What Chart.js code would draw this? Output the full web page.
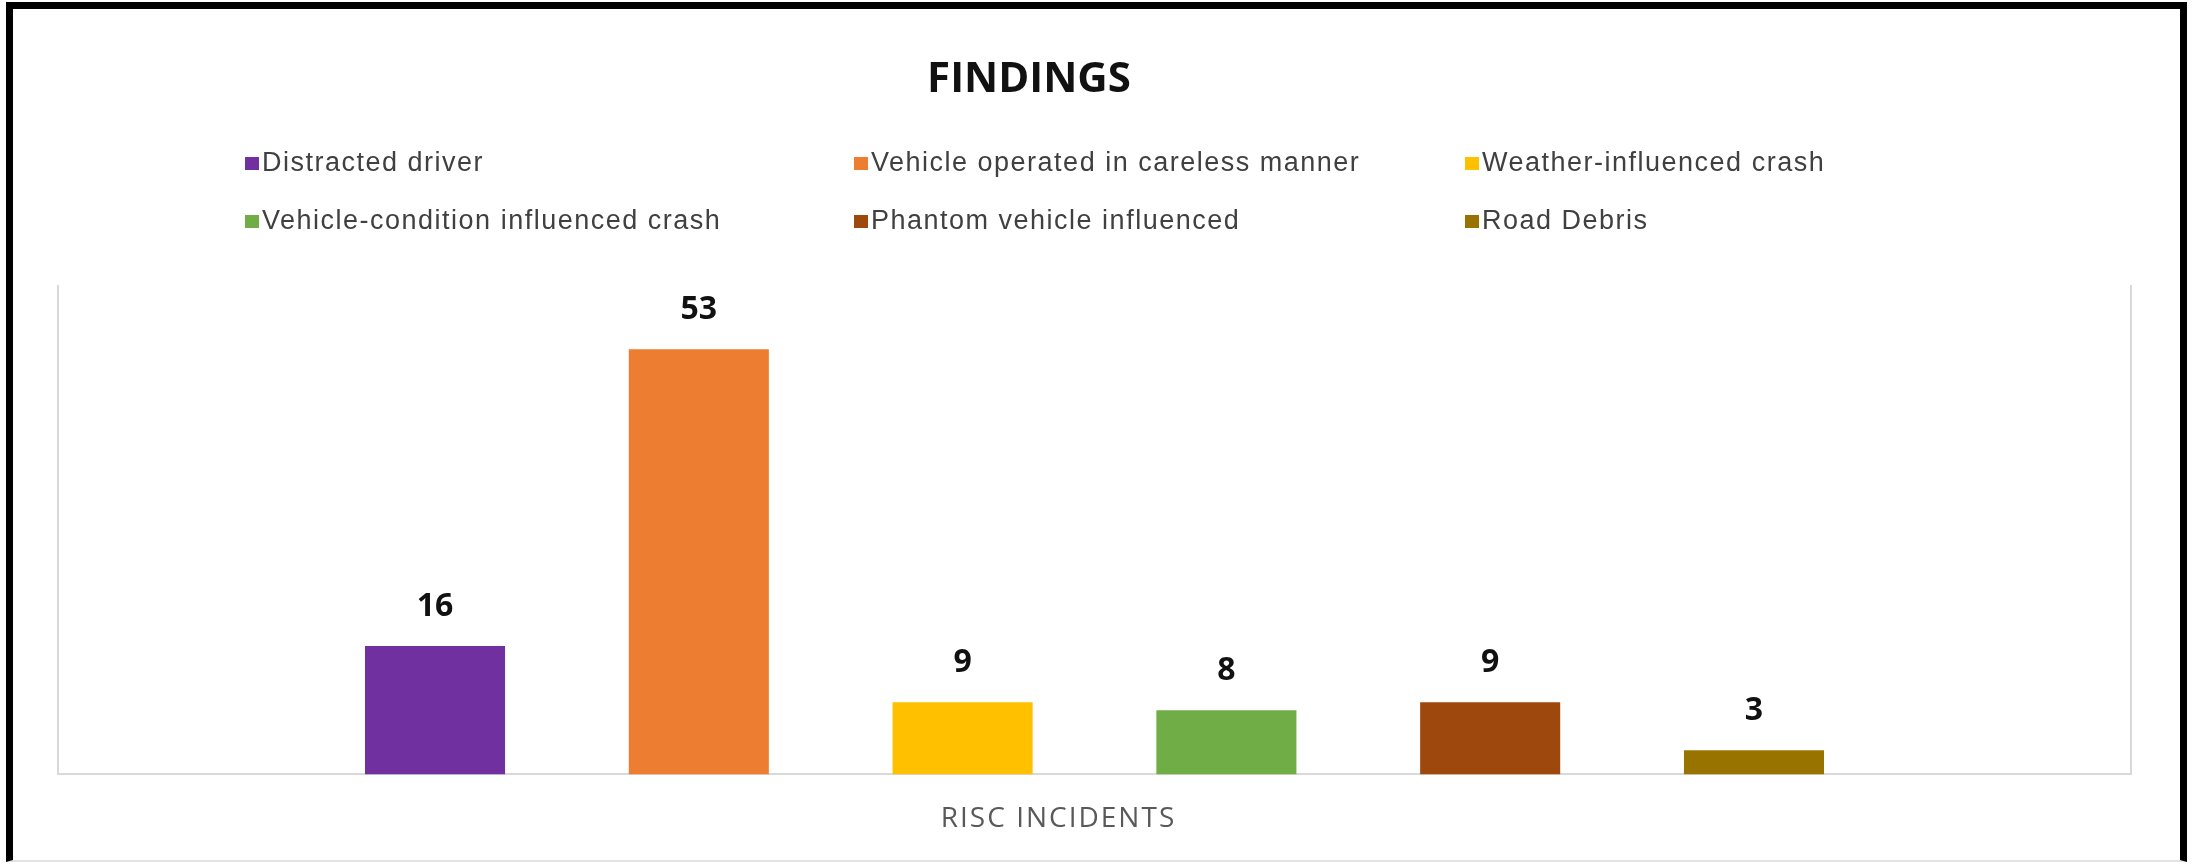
<!DOCTYPE html>
<html>
<head>
<meta charset="utf-8">
<script src="https://cdn.jsdelivr.net/npm/chart.js@4.4.1/dist/chart.umd.min.js"></script>
<style>
  html, body { margin: 0; padding: 0; background: #fff; }
  #wrap { position: relative; width: 2195px; height: 867px; overflow: hidden; }
  #frame {
    position: absolute; left: 6px; top: 2px; width: 2167px; height: 851px;
    border: 7px solid #000; border-bottom: 2px solid #e3e3e3;
  }
  #chart_findings { position: absolute; left: 0; top: 0; }
</style>
</head>
<body>
<div id="wrap">
  <div id="frame"></div>
  <canvas id="chart_findings" width="2195" height="867"></canvas>
</div>
<script>
const chartTitle = "FINDINGS";

const categories = ["RISC INCIDENTS"];

const seriesNames = [
  "Distracted driver",
  "Vehicle operated in careless manner",
  "Weather-influenced crash",
  "Vehicle-condition influenced crash",
  "Phantom vehicle influenced",
  "Road Debris",
];

const seriesValues = [16, 53, 9, 8, 9, 3];

const seriesColors = [
  "#7030a0",
  "#ed7d31",
  "#ffc000",
  "#70ad47",
  "#9e480e",
  "#997300",
];

// excel spreads its letters a bit, mimic that for the axis text
const spacing = {
  id: "spacing",
  beforeDraw(chart) {
    chart.ctx.letterSpacing = "2px";
  },
  afterDraw(chart) {
    chart.ctx.letterSpacing = "0px";
  },
};

// title sits a bit left of the plot centre in the original
const titleText = {
  id: "titleText",
  afterDraw(chart) {
    const ctx = chart.ctx;
    ctx.save();
    ctx.letterSpacing = "0px";
    ctx.font = "bold 42px 'Open Sans'";
    ctx.fillStyle = "#111";
    ctx.textAlign = "center";
    ctx.textBaseline = "middle";
    ctx.fillText(chartTitle, 1029, 80);
    ctx.restore();
  },
};

// value labels above each bar
const barValues = {
  id: "barValues",
  afterDatasetsDraw(chart) {
    const ctx = chart.ctx;
    ctx.save();
    ctx.letterSpacing = "0px";
    ctx.font = "bold 32px 'Open Sans'";
    ctx.fillStyle = "#111";
    ctx.textAlign = "center";
    ctx.textBaseline = "middle";
    chart.data.datasets.forEach((ds, i) => {
      const bar = chart.getDatasetMeta(i).data[0];
      ctx.fillText(String(ds.data[0]), bar.x, bar.y - 39);
    });
    ctx.restore();
  },
};

// legend laid out in a 3 column grid like the excel one
const gridLegend = {
  id: "gridLegend",
  afterDraw(chart) {
    const ctx = chart.ctx;
    const cols = [245, 854, 1465];
    const rows = [163, 221];
    ctx.save();
    ctx.font = "27px 'Liberation Sans'";
    ctx.letterSpacing = "1.5px";
    ctx.textBaseline = "middle";
    chart.data.datasets.forEach((ds, i) => {
      const x = cols[i % 3];
      const y = rows[Math.floor(i / 3)];
      ctx.fillStyle = ds.backgroundColor;
      ctx.fillRect(x, y - 6, 14, 13);
      ctx.fillStyle = "#404040";
      ctx.fillText(ds.label, x + 17, y + 1);
    });
    ctx.restore();
  },
};

new Chart(document.getElementById("chart_findings"), {
  type: "bar",
  data: {
    labels: categories,
    datasets: seriesNames.map((name, i) => ({
      label: name,
      data: [seriesValues[i]],
      backgroundColor: seriesColors[i],
      borderWidth: 0,
      categoryPercentage: 0.7635,
      barPercentage: 0.531,
    })),
  },
  options: {
    responsive: false,
    animation: false,
    layout: {
      padding: { top: 285, left: 58, right: 64, bottom: 3 },
    },
    plugins: {
      legend: { display: false },
      tooltip: { enabled: false },
      title: { display: false },
    },
    scales: {
      x: {
        offset: true,
        grid: {
          display: true,
          offset: true,
          color: "#d9d9d9",
          lineWidth: 2,
          drawTicks: false,
        },
        border: { display: true, color: "#d9d9d9", width: 2 },
        ticks: {
          color: "#595959",
          font: { family: "'Open Sans'", size: 28 },
          padding: 28,
          labelOffset: -36,
        },
      },
      y: {
        display: false,
        min: 0,
        max: 61,
      },
    },
  },
  plugins: [spacing, barValues, gridLegend, titleText],
});
</script>
</body>
</html>
